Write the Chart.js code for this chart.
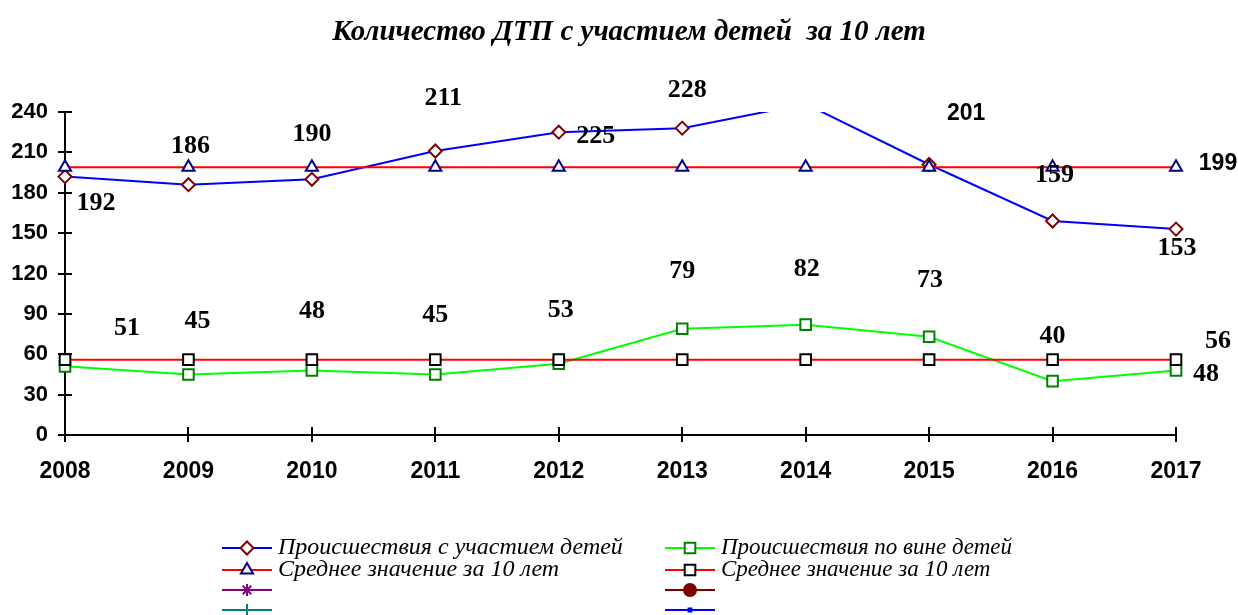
<!DOCTYPE html>
<html>
<head>
<meta charset="utf-8">
<script src="https://cdn.jsdelivr.net/npm/chart.js@4.4.0/dist/chart.umd.min.js"></script>
<style>
    html, body { margin: 0; padding: 0; background: #fff; }
    #wrap { width: 1238px; height: 615px; position: relative; }
</style>
</head>
<body>
<div id="wrap"><canvas id="dtpChart"></canvas></div>
<script>
// ---------------------------------------------------------
// DATA
// ---------------------------------------------------------
const years = ['2008', '2009', '2010', '2011', '2012', '2013', '2014', '2015', '2016', '2017'];
const involvedChildren = [192, 186, 190, 211, 225, 228, 246, 201, 159, 153];
const causedByChildren = [51, 45, 48, 45, 53, 79, 82, 73, 40, 48];
const involvedAverage = [199, 199, 199, 199, 199, 199, 199, 199, 199, 199];
const causedAverage = [56, 56, 56, 56, 56, 56, 56, 56, 56, 56];
const yTicks = [0, 30, 60, 90, 120, 150, 180, 210, 240];

const titleText = 'Количество ДТП с участием детей  за 10 лет';
const legendNames = [
    'Происшествия с участием детей',
    'Происшествия по вине детей',
    'Среднее значение за 10 лет',
    'Среднее значение за 10 лет',
    '', '', '', ''
];

const SERIF = "'Liberation Serif', 'Times New Roman', serif";
const SANS = "'Liberation Sans', Arial, sans-serif";

// label offsets from each point (px), null = no label; s = sans font
const labelLayout = {
    0: [[31, 27], [2, -38], [0, -45], [8, -53], [37, 4], [5, -38], null, [37, -51, 's'], [2, -46], [1, 19]],
    1: [[62, -38], [9, -53], [0, -59], [0, -59], [2, -53], [0, -57], [1, -55], [1, -56], [0, -45], [30, 4]],
    2: [null, null, null, null, null, null, null, null, null, [42, -4, 's']],
    3: [null, null, null, null, null, null, null, null, null, [42, -18]]
};

// ---------------------------------------------------------
// PLUGINS
// ---------------------------------------------------------
const pointLabels = {
    id: 'pointLabels',
    afterDatasetsDraw(chart) {
        const ctx = chart.ctx;
        ctx.save();
        ctx.fillStyle = '#000';
        ctx.textAlign = 'center';
        ctx.textBaseline = 'middle';
        Object.keys(labelLayout).forEach(di => {
            const meta = chart.getDatasetMeta(+di);
            const values = chart.data.datasets[di].data;
            labelLayout[di].forEach((off, i) => {
                if (!off) return;
                const p = meta.data[i];
                ctx.font = off[2] === 's' ? 'bold 23px ' + SANS : 'bold 26px ' + SERIF;
                ctx.fillText(String(values[i]), p.x + off[0], p.y + off[1]);
            });
        });
        ctx.restore();
    }
};

const crossTicks = {
    id: 'crossTicks',
    afterDraw(chart) {
        const ctx = chart.ctx;
        const xs = chart.scales.x, ys = chart.scales.y;
        ctx.save();
        ctx.strokeStyle = '#000';
        ctx.lineWidth = 2;
        ctx.beginPath();
        ys.ticks.forEach(t => {
            const y = Math.round(ys.getPixelForValue(t.value));
            ctx.moveTo(xs.left - 7, y);
            ctx.lineTo(xs.left + 7, y);
        });
        years.forEach((_, i) => {
            const x = Math.round(xs.getPixelForValue(i));
            ctx.moveTo(x, ys.bottom - 8);
            ctx.lineTo(x, ys.bottom + 7);
        });
        ctx.stroke();
        ctx.restore();
    }
};

const titleAndLegend = {
    id: 'titleAndLegend',
    afterDraw(chart) {
        const ctx = chart.ctx;
        ctx.save();
        ctx.fillStyle = '#000';
        ctx.textAlign = 'center';
        ctx.textBaseline = 'middle';
        ctx.font = 'italic bold 29px ' + SERIF;
        ctx.fillText(titleText, 629, 33);

        // legend: 2 columns x 4 rows
        const colX = [222, 665];
        const rowY = [548, 570, 590, 610];
        chart.data.datasets.forEach((ds, k) => {
            const cx = colX[k % 2];
            const cy = rowY[Math.floor(k / 2)];
            ctx.strokeStyle = ds.borderColor;
            ctx.lineWidth = 2;
            ctx.beginPath();
            ctx.moveTo(cx, cy);
            ctx.lineTo(cx + 50, cy);
            ctx.stroke();
            ctx.fillStyle = ds.pointBackgroundColor;
            ctx.strokeStyle = ds.pointBorderColor;
            ctx.lineWidth = ds.pointBorderWidth;
            Chart.helpers.drawPoint(ctx, {
                pointStyle: ds.pointStyle,
                radius: ds.pointRadius,
                borderWidth: ds.pointBorderWidth,
                rotation: 0
            }, cx + 25, cy);
            ctx.fillStyle = '#000';
            ctx.textAlign = 'left';
            ctx.font = (k % 2 ? 'italic 23px ' : 'italic 24px ') + SERIF;
            ctx.fillText(legendNames[k], cx + 56, cy);
        });
        ctx.restore();
    }
};

// ---------------------------------------------------------
// CHART
// ---------------------------------------------------------
function series(data, line, marker, fill, style, radius, order) {
    return {
        data: data,
        borderColor: line,
        borderWidth: 2,
        pointStyle: style,
        pointRadius: radius,
        pointBorderColor: marker,
        pointBackgroundColor: fill,
        pointBorderWidth: 2,
        tension: 0,
        order: order
    };
}

const chart = new Chart(document.getElementById('dtpChart'), {
    type: 'line',
    data: {
        labels: years,
        datasets: [
            series(involvedChildren, '#0000FF', '#800000', '#FFFFFF', 'rectRot', 6.5, 4),
            series(causedByChildren, '#00FF00', '#008000', '#FFFFFF', 'rect', 7.5, 2),
            series(involvedAverage, '#FF0000', '#000080', '#FFFFFF', 'triangle', 7, 3),
            series(causedAverage, '#FF0000', '#000000', '#FFFFFF', 'rect', 7.5, 1),
            series([], '#800080', '#800080', '#800080', 'star', 6, 5),
            series([], '#800000', '#800000', '#800000', 'circle', 6, 5),
            series([], '#008080', '#008080', '#008080', 'cross', 6, 5),
            series([], '#0000FF', '#0000FF', '#0000FF', 'rect', 2, 5)
        ]
    },
    options: {
        responsive: true,
        maintainAspectRatio: false,
        animation: false,
        layout: { padding: { top: 112, right: 62, bottom: 130, left: 0 } },
        plugins: {
            legend: { display: false },
            tooltip: { enabled: false },
            title: { display: false }
        },
        scales: {
            x: {
                offset: false,
                grid: { display: false },
                border: { display: true, color: '#000', width: 2 },
                ticks: {
                    color: '#000',
                    padding: 15,
                    maxRotation: 0,
                    font: { family: SANS, size: 23, weight: 'bold' }
                },
                afterFit: s => { s.height = 50; }
            },
            y: {
                min: 0,
                max: 240,
                grid: { display: false },
                border: { display: true, color: '#000', width: 2 },
                afterBuildTicks: s => { s.ticks = yTicks.map(v => ({ value: v })); },
                ticks: {
                    color: '#000',
                    padding: 9,
                    font: { family: SANS, size: 22, weight: 'bold' }
                },
                afterFit: s => { s.width = 65; }
            }
        }
    },
    plugins: [crossTicks, pointLabels, titleAndLegend]
});
</script>
</body>
</html>
